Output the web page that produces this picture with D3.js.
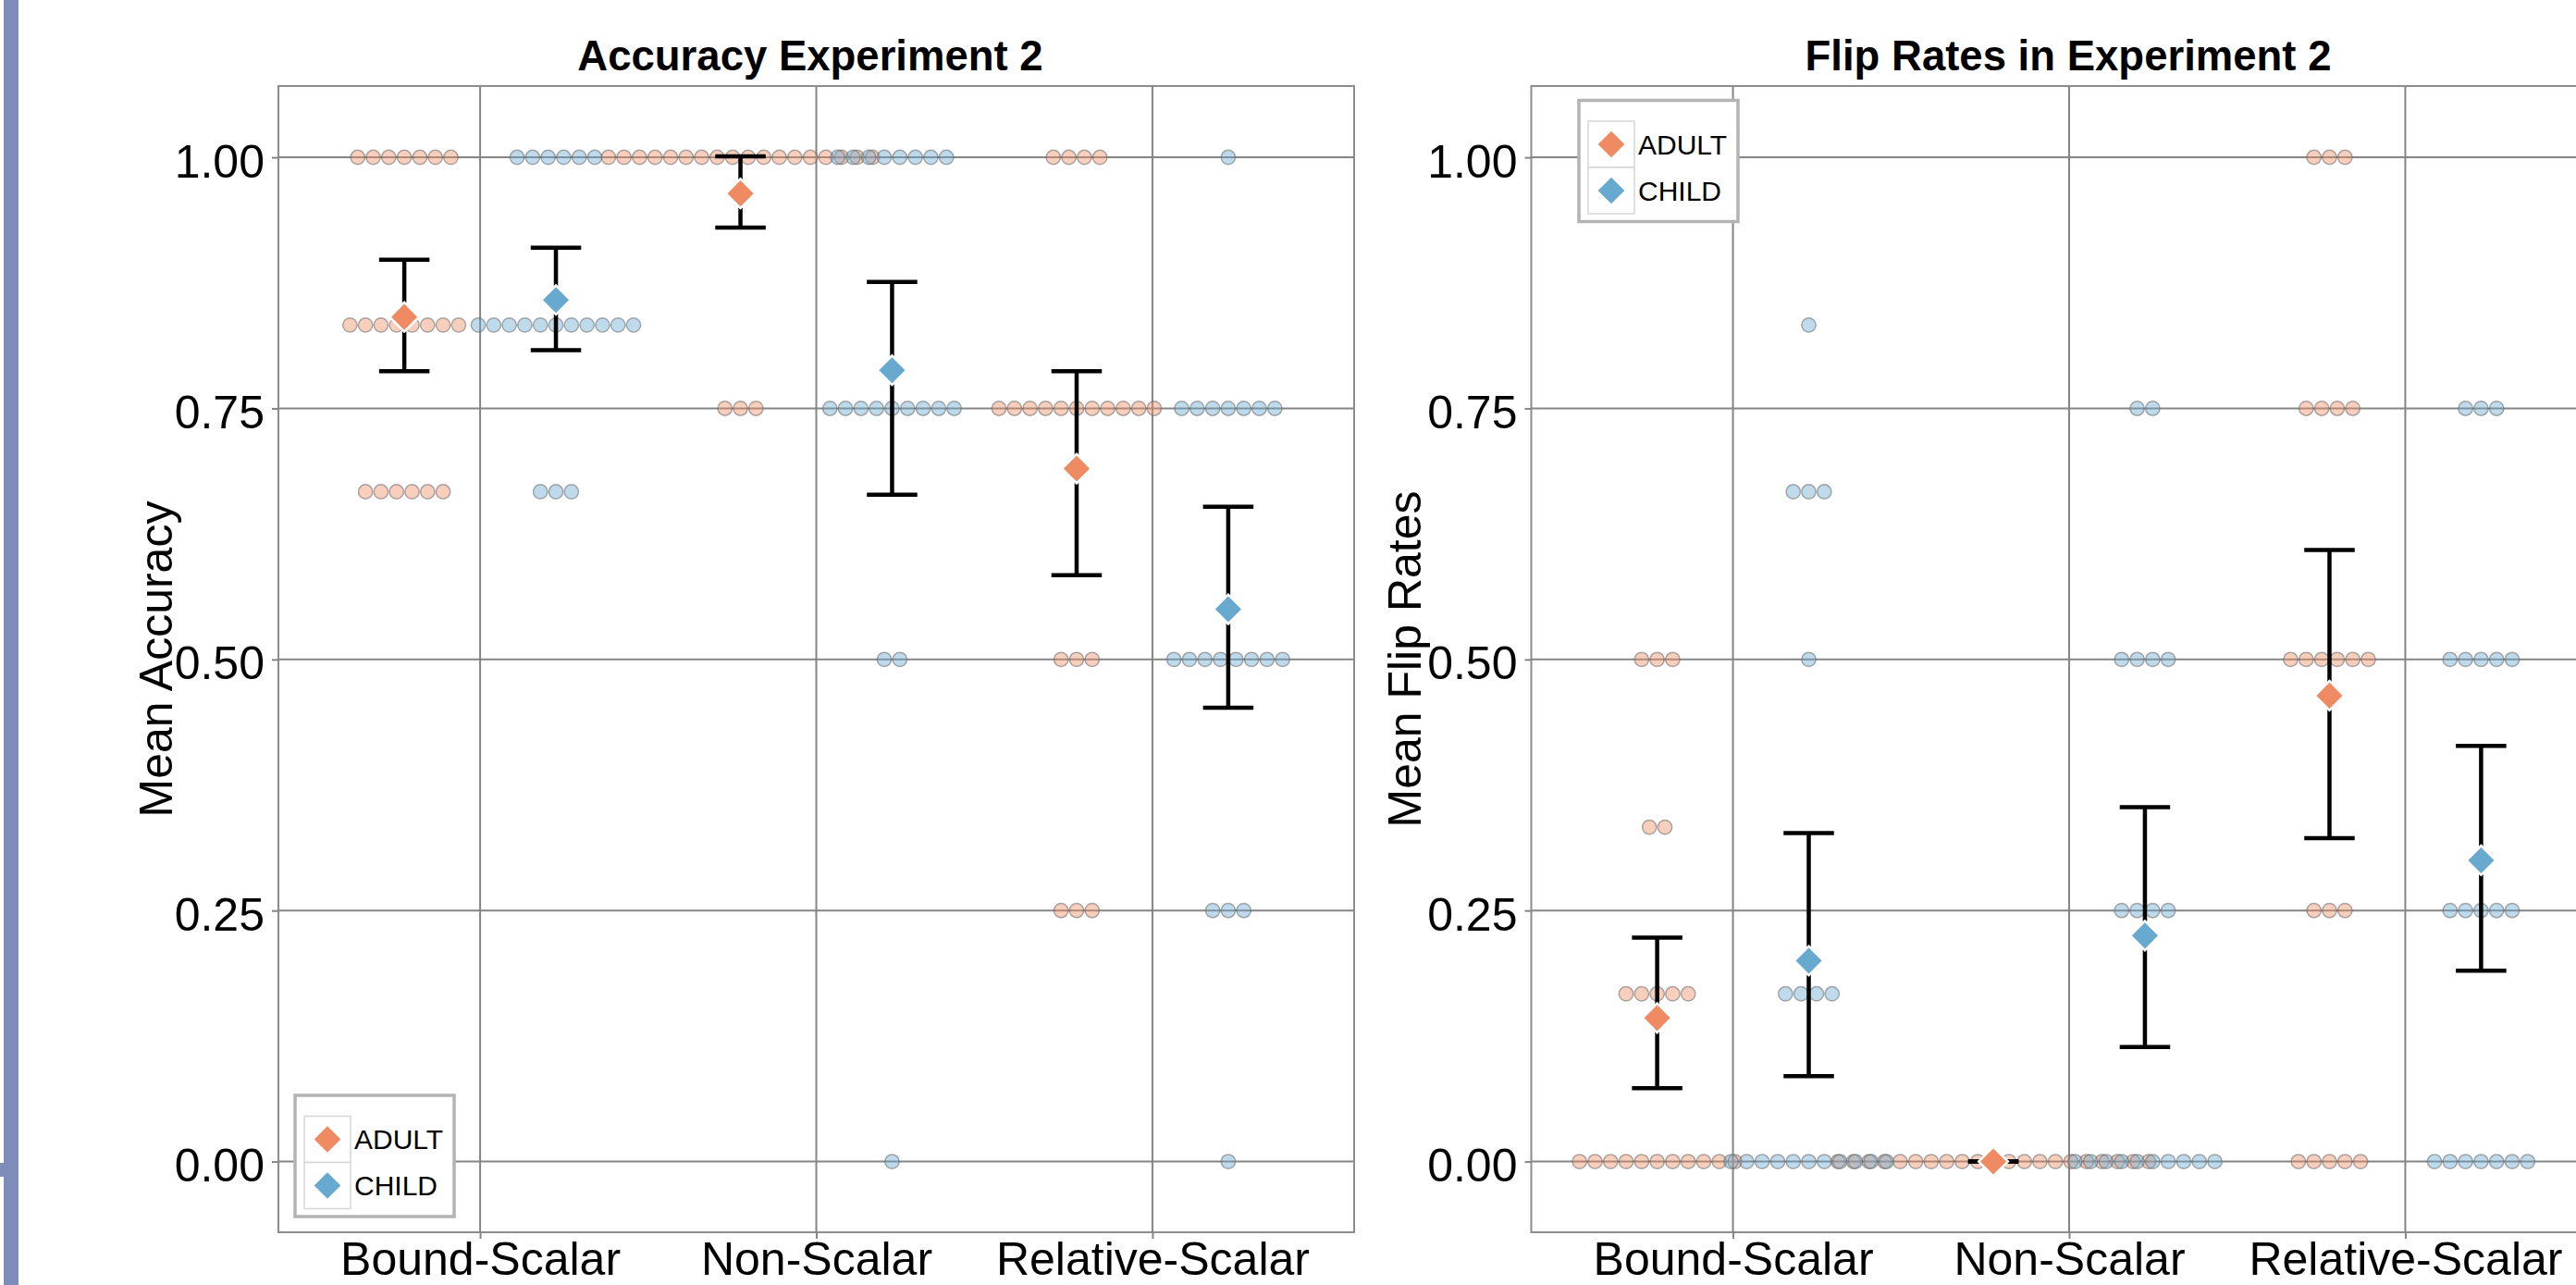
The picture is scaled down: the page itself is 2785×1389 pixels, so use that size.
<!DOCTYPE html>
<html>
<head>
<meta charset="utf-8">
<script src="https://cdn.jsdelivr.net/npm/d3@7"></script>
<style>
  body { margin: 0; background: #fff; }
  svg text { font-family: "Liberation Sans", Arial, sans-serif; fill: #000; }
</style>
</head>
<body>
<div id="chart-area"></div>
<script>
const categories = ["Bound-Scalar", "Non-Scalar", "Relative-Scalar"];
const groups = ["ADULT", "CHILD"];
const yTicks = [0, 0.25, 0.5, 0.75, 1];

// participant scores per condition as [score, count]
const accuracyAdultDots = [
    [[1, 7], [0.833, 8], [0.667, 6]],
    [[1, 18], [0.75, 3]],
    [[1, 4], [0.75, 11], [0.5, 3], [0.25, 3]]
];
const accuracyChildDots = [
    [[1, 6], [0.833, 11], [0.667, 3]],
    [[1, 8], [0.75, 9], [0.5, 2], [0, 1]],
    [[1, 1], [0.75, 7], [0.5, 8], [0.25, 3], [0, 1]]
];
const flipAdultDots = [
    [[0.5, 3], [0.333, 2], [0.167, 5], [0, 11]],
    [[0, 21]],
    [[1, 3], [0.75, 4], [0.5, 6], [0.25, 3], [0, 5]]
];
const flipChildDots = [
    [[0.833, 1], [0.667, 3], [0.5, 1], [0.167, 4], [0, 11]],
    [[0.75, 2], [0.5, 4], [0.25, 4], [0, 10]],
    [[0.75, 3], [0.5, 5], [0.25, 5], [0, 7]]
];

const accuracyAdultMean = [0.841, 0.964, 0.690];
const accuracyAdultLow = [0.787, 0.930, 0.584];
const accuracyAdultHigh = [0.898, 1.001, 0.787];
const accuracyChildMean = [0.858, 0.788, 0.550];
const accuracyChildLow = [0.808, 0.664, 0.452];
const accuracyChildHigh = [0.910, 0.876, 0.652];

const flipAdultMean = [0.143, 0.000, 0.464];
const flipAdultLow = [0.073, 0.000, 0.322];
const flipAdultHigh = [0.223, 0.000, 0.609];
const flipChildMean = [0.200, 0.225, 0.300];
const flipChildLow = [0.085, 0.114, 0.190];
const flipChildHigh = [0.327, 0.353, 0.414];

const colors = ["#ef8a62", "#67a9cf"];
const gridColor = "#858585";

const panels = [
    {
        title: "Accuracy Experiment 2", yLabel: "Mean Accuracy",
        left: 301, right: 1464, titleX: 876, yLabelX: 186,
        legendX: 319, legendY: 1184,
        dots: [accuracyAdultDots, accuracyChildDots],
        means: [accuracyAdultMean, accuracyChildMean],
        lows: [accuracyAdultLow, accuracyChildLow],
        highs: [accuracyAdultHigh, accuracyChildHigh]
    },
    {
        title: "Flip Rates in Experiment 2", yLabel: "Mean Flip Rates",
        left: 1655.5, right: 2818.5, titleX: 2236, yLabelX: 1536,
        legendX: 1707, legendY: 108.5,
        dots: [flipAdultDots, flipChildDots],
        means: [flipAdultMean, flipChildMean],
        lows: [flipAdultLow, flipChildLow],
        highs: [flipAdultHigh, flipChildHigh]
    }
];

const diamond = d3.symbol(d3.symbolSquare, 500)();
const legendDiamond = d3.symbol(d3.symbolSquare, 410)();

const drawPanel = (svg, panel) => {
    const x = d3.scalePoint().domain(categories).range([panel.left, panel.right]).padding(0.6);
    const y = d3.scaleLinear().domain([-0.0704, 1.071]).range([1332, 93]);
    const step = x.step();
    const dodge = step * 0.2255;
    const dotStep = step * 0.0462;
    const capHalf = step * 0.075;
    const g = svg.append("g");

    g.append("rect")
        .attr("x", panel.left).attr("y", y.range()[1])
        .attr("width", panel.right - panel.left).attr("height", y.range()[0] - y.range()[1])
        .attr("fill", "#fff");

    g.selectAll(".hgrid").data(yTicks).enter().append("line")
        .attr("x1", panel.left).attr("x2", panel.right)
        .attr("y1", d => y(d)).attr("y2", d => y(d))
        .attr("stroke", gridColor).attr("stroke-width", 2);

    g.selectAll(".vgrid").data(categories).enter().append("line")
        .attr("x1", d => x(d)).attr("x2", d => x(d))
        .attr("y1", y.range()[1]).attr("y2", y.range()[0])
        .attr("stroke", gridColor).attr("stroke-width", 2);

    const dotData = [];
    groups.forEach((grp, gi) => {
        categories.forEach((cat, ci) => {
            panel.dots[gi][ci].forEach(([v, n]) => {
                for (let k = 0; k < n; k++) {
                    dotData.push({
                        group: gi,
                        cx: x(cat) + (gi === 0 ? -dodge : dodge) + (k - (n - 1) / 2) * dotStep,
                        cy: y(v)
                    });
                }
            });
        });
    });

    g.selectAll(".dot").data(dotData).enter().append("circle")
        .attr("cx", d => d.cx).attr("cy", d => d.cy).attr("r", 7.7)
        .attr("fill", d => colors[d.group]).attr("fill-opacity", 0.42)
        .attr("stroke", "#6a6a6a").attr("stroke-opacity", 0.55).attr("stroke-width", 1.5);

    const summary = [];
    groups.forEach((grp, gi) => {
        categories.forEach((cat, ci) => {
            summary.push({
                group: gi,
                cx: x(cat) + (gi === 0 ? -dodge : dodge),
                mean: panel.means[gi][ci],
                low: panel.lows[gi][ci],
                high: panel.highs[gi][ci]
            });
        });
    });

    const bars = g.selectAll(".errorbar").data(summary).enter().append("g");
    bars.append("line")
        .attr("x1", d => d.cx).attr("x2", d => d.cx)
        .attr("y1", d => y(d.low)).attr("y2", d => y(d.high))
        .attr("stroke", "#000").attr("stroke-width", 4.5);
    bars.append("line")
        .attr("x1", d => d.cx - capHalf).attr("x2", d => d.cx + capHalf)
        .attr("y1", d => y(d.low)).attr("y2", d => y(d.low))
        .attr("stroke", "#000").attr("stroke-width", 4.5);
    bars.append("line")
        .attr("x1", d => d.cx - capHalf).attr("x2", d => d.cx + capHalf)
        .attr("y1", d => y(d.high)).attr("y2", d => y(d.high))
        .attr("stroke", "#000").attr("stroke-width", 4.5);

    g.selectAll(".mean").data(summary).enter().append("path")
        .attr("d", diamond)
        .attr("transform", d => `translate(${d.cx},${y(d.mean)}) rotate(45)`)
        .attr("fill", d => colors[d.group])
        .attr("stroke", "#fff").attr("stroke-width", 2.5);

    g.append("rect")
        .attr("x", panel.left).attr("y", y.range()[1])
        .attr("width", panel.right - panel.left).attr("height", y.range()[0] - y.range()[1])
        .attr("fill", "none").attr("stroke", "#8c8c8c").attr("stroke-width", 2);

    const yAxis = d3.axisLeft(y).tickValues(yTicks).tickFormat(d3.format(".2f"))
        .tickSize(7).tickPadding(8);
    g.append("g")
        .attr("transform", `translate(${panel.left},0)`)
        .call(yAxis)
        .call(a => a.select(".domain").remove())
        .call(a => a.selectAll("line").attr("stroke", gridColor).attr("stroke-width", 2))
        .call(a => a.selectAll("text").attr("dy", "0.42em").style("font-size", "50px"));

    const xAxis = d3.axisBottom(x).tickSize(7).tickPadding(3);
    g.append("g")
        .attr("transform", `translate(0,${y.range()[0]})`)
        .call(xAxis)
        .call(a => a.select(".domain").remove())
        .call(a => a.selectAll("line").attr("stroke", gridColor).attr("stroke-width", 2))
        .call(a => a.selectAll("text").style("font-size", "50px"));

    svg.append("text")
        .attr("x", panel.titleX).attr("y", 76)
        .attr("text-anchor", "middle")
        .style("font-size", "45.5px").style("font-weight", "bold")
        .text(panel.title);

    svg.append("text")
        .attr("transform", `translate(${panel.yLabelX},${(y.range()[0] + y.range()[1]) / 2}) rotate(-90)`)
        .attr("text-anchor", "middle")
        .style("font-size", "50px")
        .text(panel.yLabel);

    const legend = svg.append("g")
        .attr("transform", `translate(${panel.legendX},${panel.legendY})`);
    legend.append("rect")
        .attr("width", 172).attr("height", 131)
        .attr("fill", "#fff").attr("stroke", "#b3b3b3").attr("stroke-width", 3.5);
    groups.forEach((grp, i) => {
        legend.append("rect")
            .attr("x", 10).attr("y", 22.5 + i * 50).attr("width", 50).attr("height", 50)
            .attr("fill", "#fff").attr("stroke", "#d6d6d6").attr("stroke-width", 1.5);
        legend.append("path")
            .attr("d", legendDiamond)
            .attr("transform", `translate(35,${47.5 + i * 50}) rotate(45)`)
            .attr("fill", colors[i]);
        legend.append("text")
            .attr("x", 64).attr("y", 47.5 + i * 50).attr("dy", "0.36em")
            .style("font-size", "30px")
            .text(grp);
    });
};

const main = () => {
    const width = 2785;
    const height = 1389;
    const svg = d3.select("#chart-area").append("svg")
        .attr("width", width).attr("height", height)
        .style("display", "block");

    svg.append("rect").attr("width", width).attr("height", height).attr("fill", "#fff");

    panels.forEach(p => drawPanel(svg, p));

    svg.append("rect").attr("x", 4).attr("y", 0).attr("width", 16).attr("height", height).attr("fill", "#7d8cb8");
    svg.append("rect").attr("x", 0).attr("y", 1257).attr("width", 6).attr("height", 15).attr("fill", "#7d8cb8");
};

window.onload = main;
</script>
</body>
</html>
